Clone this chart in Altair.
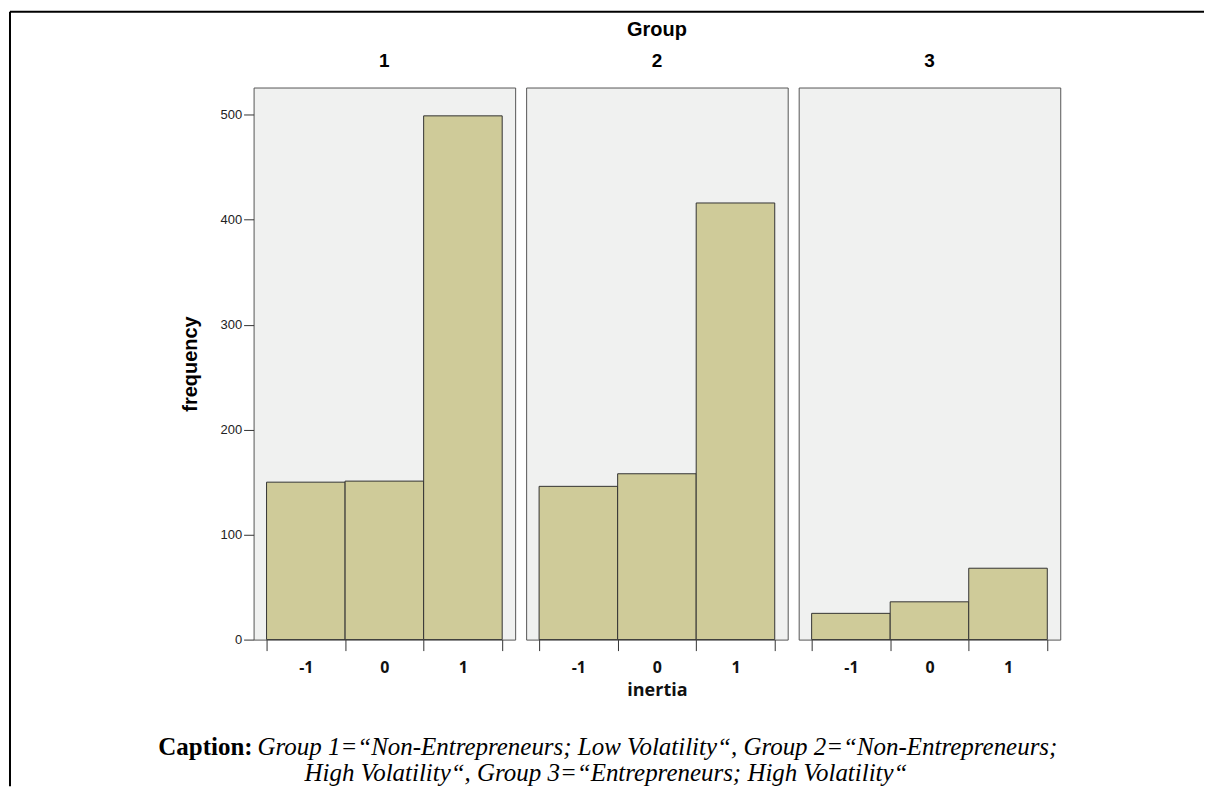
import altair as alt
import pandas as pd

# ---- data ----
inertia_levels = [-1, 0, 1]
freq_group1 = [150, 151, 499]
freq_group2 = [146, 158, 416]
freq_group3 = [25, 36, 68]
group_labels = ["1", "2", "3"]
y_tick_values = [0, 100, 200, 300, 400, 500]
x_axis_values = [-1.5, -1, -0.5, 0, 0.5, 1, 1.5]
header_text = "Group"
x_title = "inertia"
y_title = "frequency"
caption_bold = "Caption:"
caption_line1 = "Group 1=\u201cNon-Entrepreneurs; Low Volatility\u201c, Group 2=\u201cNon-Entrepreneurs;"
caption_line2 = "High Volatility\u201c, Group 3=\u201cEntrepreneurs; High Volatility\u201c"

# ---- styling ----
W, H = 262, 553
BAR_FILL = "#cfcb99"
BAR_STROKE = "#333333"
SANS = "Liberation Sans"
LABEL_SANS = "Open Sans"
SERIF = "Liberation Serif"
CAP_SIZE = 25

x_scale = alt.Scale(domain=[-1.665, 1.665], nice=False, zero=False)
y_scale = alt.Scale(domain=[0, 526], nice=False)


def one_row():
    return pd.DataFrame({"k": [0]})


def text_layer(txt, x, y, size, weight="bold", font=SANS, style="normal", align="center"):
    return alt.Chart(pd.DataFrame({"t": [txt]})).mark_text(
        font=font, fontSize=size, fontWeight=weight, fontStyle=style,
        align=align, baseline="middle", color="#000000"
    ).encode(text="t:N", x=alt.value(x), y=alt.value(y))


def panel(freqs, label, first=False, middle=False):
    df = pd.DataFrame({"inertia": inertia_levels, "frequency": freqs})
    x_axis = alt.Axis(
        values=x_axis_values,
        labelExpr="datum.value % 1 === 0 ? '' + datum.value : ''",
        tickOpacity={"condition": {"test": "datum.value % 1 !== 0", "value": 1}, "value": 0},
        labelOverlap=False,
        labelFlush=False,
        domain=False,
        grid=False,
        tickSize=11,
        tickColor="#333333",
        tickWidth=1,
        labelFont=LABEL_SANS,
        labelFontSize=16,
        labelFontWeight="bold",
        labelColor="#111111",
        labelPadding=9,
        title=x_title if middle else None,
        titleFont=LABEL_SANS,
        titleFontSize=18,
        titleFontWeight="bold",
        titleColor="#111111",
        titlePadding=6,
    )
    if first:
        y_axis = alt.Axis(
            values=y_tick_values,
            domain=False,
            grid=False,
            tickSize=10,
            tickColor="#333333",
            labelFont=SANS,
            labelFontSize=13,
            labelColor="#222222",
            labelPadding=2,
            title=y_title,
            titleFont=SANS,
            titleFontSize=20,
            titleFontWeight="bold",
            titleColor="#000000",
            titlePadding=19,
        )
        y_enc = alt.Y("frequency:Q", scale=y_scale, axis=y_axis)
    else:
        y_enc = alt.Y("frequency:Q", scale=y_scale, axis=None)

    bars = alt.Chart(df).transform_calculate(
        lo="datum.inertia - 0.5", hi="datum.inertia + 0.5"
    ).mark_rect(fill=BAR_FILL, stroke=BAR_STROKE, strokeWidth=1).encode(
        x=alt.X("lo:Q", scale=x_scale, axis=x_axis),
        x2="hi:Q",
        y=y_enc,
        y2=alt.datum(0),
    )
    layers = [bars, text_layer(label, W / 2, -27, 19)]
    if middle:
        layers.append(text_layer(header_text, W / 2, -58, 20))
        # caption
        layers.append(text_layer(caption_bold, -274, 661, CAP_SIZE, weight="bold", font=SERIF, align="right"))
        layers.append(text_layer(caption_line1, -269, 661, CAP_SIZE, weight="normal", font=SERIF, style="italic", align="left"))
        layers.append(text_layer(caption_line2, 80, 687, CAP_SIZE, weight="normal", font=SERIF, style="italic"))
        # frame lines of the figure
        layers.append(alt.Chart(one_row()).mark_rule(color="#000000", strokeWidth=2).encode(
            x=alt.value(-517), x2=alt.value(679), y=alt.value(-76)))
        layers.append(alt.Chart(one_row()).mark_rule(color="#000000", strokeWidth=2).encode(
            x=alt.value(-517), y=alt.value(-76), y2=alt.value(700)))
    return alt.layer(*layers).properties(width=W, height=H)


chart = alt.hconcat(
    panel(freq_group1, group_labels[0], first=True),
    panel(freq_group2, group_labels[1], middle=True),
    panel(freq_group3, group_labels[2]),
    spacing=11,
    bounds="flush",
).properties(
    padding={"left": 0, "top": 1, "right": 0, "bottom": 0},
    background="#ffffff",
).configure_view(
    fill="#f0f1f0", stroke="#555555", strokeWidth=1
)

chart.save("out.html", embed_options={"renderer": "svg", "actions": False})
